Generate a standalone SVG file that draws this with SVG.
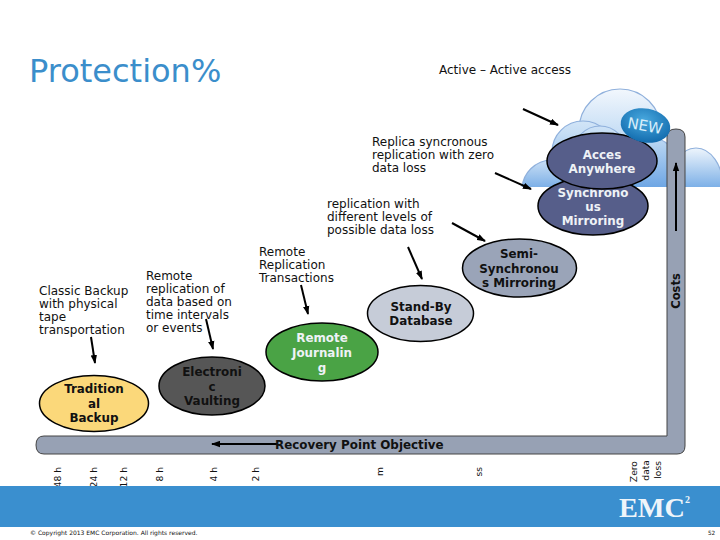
<svg xmlns="http://www.w3.org/2000/svg" width="720" height="540" viewBox="0 0 720 540">
<style>
text{font-family:"DejaVu Sans",Verdana,sans-serif;fill:#111}
.l{font-size:12px}
.n{font-size:11.9px;font-weight:bold;text-anchor:middle}
.w{fill:#eef2f6}
.o{stroke:#000;stroke-width:1.5}
.a{stroke:#000;stroke-width:2;fill:none;marker-end:url(#h)}
.r{font-size:9.2px;text-anchor:end}
.cl{fill:url(#c);stroke:#8fb0dc;stroke-width:1.2}
.cs{fill:url(#d);stroke:#8fb0dc;stroke-width:1.2}
</style>
<defs>
<marker id="h" markerUnits="userSpaceOnUse" markerWidth="9" markerHeight="7" refX="8" refY="3.500" orient="auto"><path d="M0 0.300L9 3.500L0 6.700z" fill="#000"/></marker>
<linearGradient id="c" gradientUnits="userSpaceOnUse" x1="0" y1="89" x2="0" y2="187"><stop offset="0" stop-color="#f2f7fd"/><stop offset="0.45" stop-color="#c6def5"/><stop offset="1" stop-color="#6ea6e4"/></linearGradient>
<linearGradient id="d" gradientUnits="userSpaceOnUse" x1="0" y1="148" x2="0" y2="187"><stop offset="0" stop-color="#eef5fc"/><stop offset="1" stop-color="#7db0e7"/></linearGradient>
<radialGradient id="nw" cx="0.45" cy="0.35" r="0.7"><stop offset="0" stop-color="#48a8de"/><stop offset="1" stop-color="#0f68ab"/></radialGradient>
<clipPath id="cc"><rect x="500" y="80" width="220" height="107"/></clipPath>
</defs>
<rect width="720" height="540" fill="#fff"/>
<text x="29" y="82" style="font-size:32px;fill:#3b8ecb">Protection%</text>
<text class="l" x="439" y="74">Active – Active access</text>
<text class="l"><tspan x="372" y="146">Replica syncronous</tspan><tspan x="372" y="159">replication with zero</tspan><tspan x="372" y="172">data loss</tspan></text>
<text class="l"><tspan x="327" y="208">replication with</tspan><tspan x="327" y="221">different levels of</tspan><tspan x="327" y="234">possible data loss</tspan></text>
<text class="l"><tspan x="259" y="256">Remote</tspan><tspan x="259" y="269">Replication</tspan><tspan x="259" y="282">Transactions</tspan></text>
<text class="l"><tspan x="146" y="280">Remote</tspan><tspan x="146" y="293">replication of</tspan><tspan x="146" y="306">data based on</tspan><tspan x="146" y="319">time intervals</tspan><tspan x="146" y="332">or events</tspan></text>
<text class="l"><tspan x="39" y="295">Classic Backup</tspan><tspan x="39" y="308">with physical</tspan><tspan x="39" y="321">tape</tspan><tspan x="39" y="334">transportation</tspan></text>
<g id="cloud" clip-path="url(#cc)">
<ellipse class="cs" cx="696" cy="187" rx="27" ry="39"/>
<circle class="cl" cx="620" cy="130" r="41"/>
<circle class="cl" cx="583" cy="152" r="31"/>
<circle class="cs" cx="552" cy="190" r="30"/>
<circle class="cl" cx="645" cy="172" r="36"/>
<circle class="cl" cx="600" cy="152" r="26"/>
<rect x="560" y="150" width="110" height="37" fill="url(#c)"/>
</g>
<g id="bar"><path d="M667 436V137Q667 129 676 129Q685 129 685 137V446Q685 454 677 454H44Q36 454 36 445Q36 436 44 436Z" fill="#97a1b4" stroke="#444" stroke-width="1"/></g>
<g id="connectors">
<line class="a" x1="523" y1="109" x2="558" y2="125"/>
<line class="a" x1="495" y1="173" x2="531" y2="189"/>
<line class="a" x1="452" y1="223" x2="485" y2="241"/>
<line class="a" x1="408" y1="247" x2="422" y2="279"/>
<line class="a" x1="301" y1="285" x2="308" y2="314"/>
<line class="a" x1="206" y1="319" x2="213" y2="349"/>
<line class="a" x1="91" y1="337" x2="95" y2="363"/>
<line class="a" x1="676" y1="231" x2="676" y2="163"/>
<line class="a" x1="277" y1="444" x2="212" y2="444"/>
</g>
<g id="tradition"><ellipse class="o" cx="94" cy="403.5" rx="54.5" ry="28" fill="#fbd87a"/><text class="n"><tspan x="94" y="393">Tradition</tspan><tspan x="94" y="408">al</tspan><tspan x="94" y="422">Backup</tspan></text></g>
<g id="vaulting"><ellipse class="o" cx="212" cy="386" rx="53" ry="29" fill="#565656"/><text class="n"><tspan x="212" y="376">Electroni</tspan><tspan x="212" y="391">c</tspan><tspan x="212" y="405">Vaulting</tspan></text></g>
<g id="journaling"><ellipse class="o" cx="322" cy="352" rx="56" ry="29" fill="#4aa345"/><text class="n w"><tspan x="322" y="342">Remote</tspan><tspan x="322" y="357">Journalin</tspan><tspan x="322" y="372">g</tspan></text></g>
<g id="standby"><ellipse class="o" cx="420.5" cy="313.5" rx="53" ry="28" fill="#c6ccd8"/><text class="n"><tspan x="421" y="311">Stand-By</tspan><tspan x="421" y="325">Database</tspan></text></g>
<g id="semi"><ellipse class="o" cx="519.5" cy="268" rx="57" ry="29" fill="#9aa4b8"/><text class="n"><tspan x="519" y="258">Semi-</tspan><tspan x="519" y="273">Synchronou</tspan><tspan x="519" y="287">s Mirroring</tspan></text></g>
<g id="sync"><ellipse class="o" cx="593" cy="206" rx="55" ry="29" fill="#565e8a"/><text class="n w"><tspan x="593" y="197">Synchrono</tspan><tspan x="593" y="211">us</tspan><tspan x="593" y="225">Mirroring</tspan></text></g>
<g id="access"><ellipse class="o" cx="602" cy="161" rx="55" ry="28" fill="#565e8a"/><text class="n w"><tspan x="602" y="159">Acces</tspan><tspan x="602" y="173">Anywhere</tspan></text></g>
<g id="new"><ellipse cx="645.500" cy="125.500" rx="25" ry="17" transform="rotate(10 645.500 125.500)" fill="url(#nw)"/><text x="645" y="131" transform="rotate(10 645 126)" text-anchor="middle" style="font-size:15px;fill:#d8eefa">NEW</text></g>
<text x="680" y="291" text-anchor="middle" transform="rotate(-90 680 291)" style="font-size:11.5px;font-weight:bold">Costs</text>
<text x="275" y="449" style="font-size:11.9px;font-weight:bold">Recovery Point Objective</text>
<text class="r" transform="translate(61 467) rotate(-90)">48 h</text>
<text class="r" transform="translate(97 467) rotate(-90)">24 h</text>
<text class="r" transform="translate(127 467) rotate(-90)">12 h</text>
<text class="r" transform="translate(163 467) rotate(-90)">8 h</text>
<text class="r" transform="translate(217 467) rotate(-90)">4 h</text>
<text class="r" transform="translate(259 467) rotate(-90)">2 h</text>
<text class="r" transform="translate(383 467) rotate(-90)">m</text>
<text class="r" transform="translate(482 467) rotate(-90)">ss</text>
<text class="r" transform="translate(637 461) rotate(-90)">Zero</text>
<text class="r" transform="translate(649 460) rotate(-90)">data</text>
<text class="r" transform="translate(661 461) rotate(-90)">loss</text>
<rect id="footer" x="0" y="486" width="720" height="41" fill="#3a8fcf"/>
<text x="619" y="517" textLength="66" lengthAdjust="spacingAndGlyphs" style="font-family:'Liberation Serif',serif;font-size:27px;font-weight:bold;fill:#eef5fa">EMC</text>
<text x="685" y="503" style="font-family:'Liberation Serif',serif;font-size:10px;font-weight:bold;fill:#eef5fa">2</text>
<text x="30" y="535" style="font-size:6px">© Copyright 2013 EMC Corporation. All rights reserved.</text>
<text x="708" y="535" style="font-size:5.7px">52</text>
</svg>
